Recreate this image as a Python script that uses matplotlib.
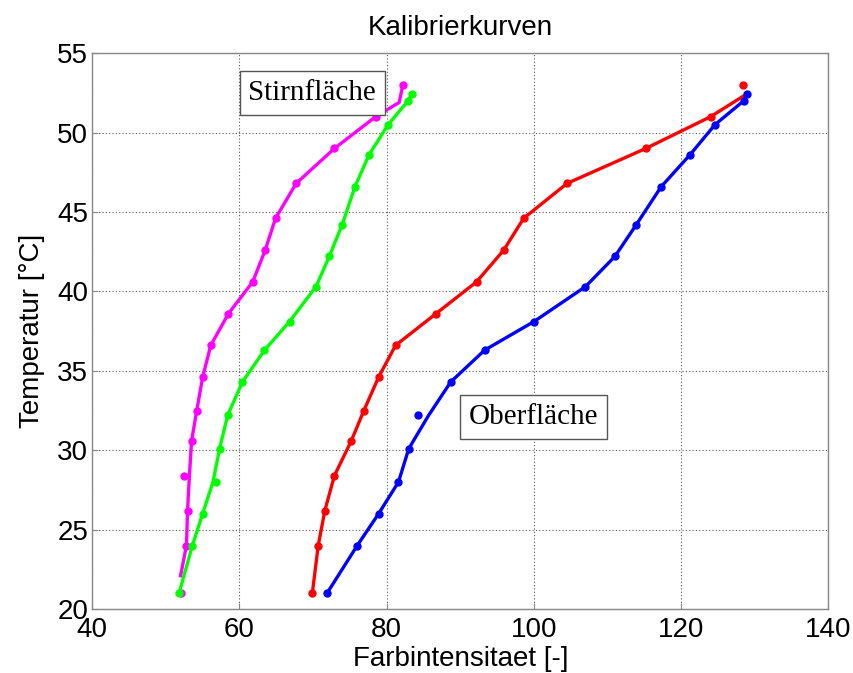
import matplotlib
matplotlib.use('Agg')
import matplotlib.pyplot as plt

# temperatures of the measured points
temp_a = [21.0, 24.0, 26.2, 28.4, 30.6, 32.5, 34.6, 36.6, 38.6, 40.6, 42.6, 44.6, 46.8, 49.0, 51.0, 53.0]
temp_b = [21.0, 24.0, 26.0, 28.0, 30.1, 32.2, 34.3, 36.3, 38.1, 40.3, 42.2, 44.2, 46.6, 48.6, 50.5, 52.0, 52.4]

# measured colour intensities
red_pts = [69.9, 70.7, 71.6, 72.9, 75.2, 76.9, 78.9, 81.2, 86.7, 92.2, 95.9, 98.6, 104.5, 115.2, 124.0, 128.4]
magenta_pts = [52.0, 52.8, 52.95, 52.4, 53.5, 54.2, 55.0, 56.1, 58.5, 61.8, 63.5, 64.9, 67.7, 72.9, 78.5, 82.2]
blue_pts = [71.9, 76.0, 78.9, 81.6, 83.0, 84.2, 88.7, 93.3, 100.0, 107.0, 111.0, 113.9, 117.3, 121.2, 124.6, 128.5, 128.9]
green_pts = [51.8, 53.6, 55.0, 56.8, 57.3, 58.4, 60.4, 63.4, 66.8, 70.4, 72.2, 73.95, 75.7, 77.6, 80.2, 82.9, 83.4]

# fitted curves
red_fit_t = [21.0, 24.0, 26.2, 28.4, 30.6, 32.5, 34.6, 36.6, 38.6, 40.6, 42.6, 44.6, 46.8, 49.0, 51.0, 52.4]
red_fit = [69.9, 70.7, 71.6, 72.9, 75.2, 76.9, 78.9, 81.2, 86.7, 92.2, 95.9, 98.6, 104.5, 115.2, 124.0, 128.8]
magenta_fit_t = [22.1, 24.0, 26.2, 28.4, 30.6, 32.5, 34.6, 36.6, 38.6, 40.6, 42.6, 44.6, 46.8, 49.0, 51.0, 51.9, 53.0]
magenta_fit = [52.0, 52.8, 52.95, 53.2, 53.5, 54.2, 55.0, 56.1, 58.5, 61.8, 63.5, 64.9, 67.7, 72.9, 78.5, 81.7, 82.2]
blue_fit = [71.9, 76.0, 78.9, 81.6, 83.0, 85.7, 88.7, 93.3, 100.0, 107.0, 111.0, 113.9, 117.3, 121.2, 124.6, 128.5, 128.9]
green_fit = [51.8, 53.6, 55.0, 56.4, 57.3, 58.4, 60.4, 63.4, 66.8, 70.4, 72.2, 73.95, 75.7, 77.6, 80.2, 82.9, 83.4]

plt.rcParams['font.family'] = 'Liberation Sans'

fig = plt.figure(figsize=(8.54, 6.73), dpi=100)
ax = fig.add_axes([0.108, 0.095, 0.862, 0.826])

lw = 2.4
ms = 5
ax.plot(magenta_fit, magenta_fit_t, color='#ff00ff', lw=lw)
ax.plot(magenta_pts, temp_a, 'o', color='#ff00ff', ms=ms)
ax.plot(green_fit, temp_b, color='#00ff00', lw=lw)
ax.plot(green_pts, temp_b, 'o', color='#00ff00', ms=ms)
ax.plot(red_fit, red_fit_t, color='#ff0000', lw=lw)
ax.plot(red_pts, temp_a, 'o', color='#ff0000', ms=ms)
ax.plot(blue_fit, temp_b, color='#0000ff', lw=lw)
ax.plot(blue_pts, temp_b, 'o', color='#0000ff', ms=ms)

ax.set_xlim(40, 140)
ax.set_ylim(20, 55)
ax.set_xticks([40, 60, 80, 100, 120, 140])
ax.set_yticks([20, 25, 30, 35, 40, 45, 50, 55])
ax.grid(True, color='#555555', linestyle=(0, (1, 2)), linewidth=0.8)
for s in ax.spines.values():
    s.set_color('#888888')
    s.set_linewidth(1.0)
ax.tick_params(labelsize=20, length=4, color='#888888', direction='in')
ax.tick_params(axis='x', pad=6)
ax.tick_params(axis='y', pad=3)

ax.set_xlabel('Farbintensitaet [-]', fontsize=20, labelpad=2)
ax.set_ylabel('Temperatur [°C]', fontsize=20, labelpad=9)
ax.set_title('Kalibrierkurven', fontsize=20, pad=13)

box = dict(boxstyle='square,pad=0.3', facecolor='white', edgecolor='#555555', linewidth=1.0)
ax.text(69.9, 52.5, 'Stirnfläche', fontsize=21, family='Liberation Serif',
        ha='center', va='center', bbox=box)
ax.text(99.9, 32.1, 'Oberfläche', fontsize=21, family='Liberation Serif',
        ha='center', va='center', bbox=box)

fig.savefig('out.png', dpi=100)
